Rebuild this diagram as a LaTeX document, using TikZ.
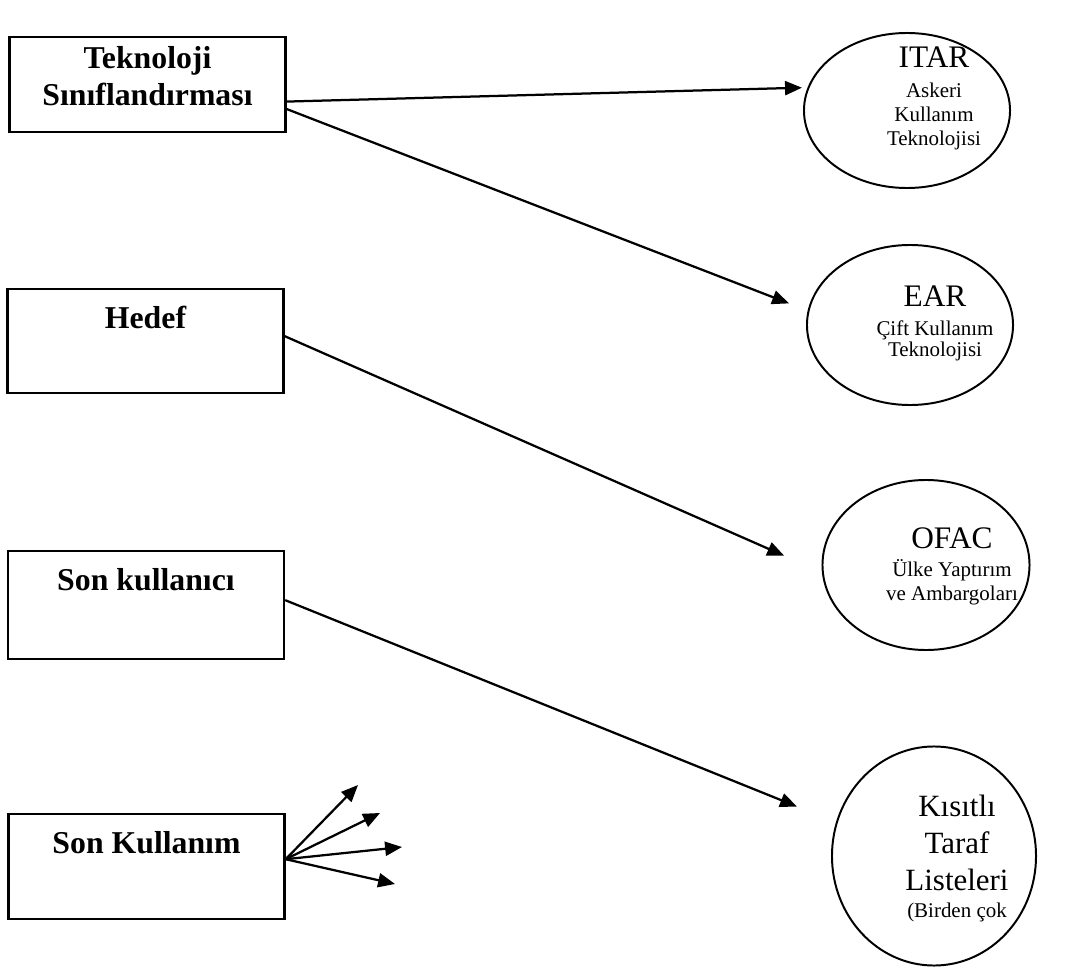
\documentclass[tikz,border=0pt]{standalone}
\usepackage{fontspec}
\setmainfont{Liberation Serif}
\usetikzlibrary{arrows.meta,shapes.geometric}

\begin{document}
\begin{tikzpicture}[x=0.025cm,y=-0.025cm,>={Triangle[length=12pt,width=10pt]},
	box/.style={draw,line width=1.6pt,minimum width=6.9cm,inner sep=0pt},
	btxt/.style={font=\bfseries\fontsize{22.6}{26.3}\selectfont,align=center,anchor=base,inner sep=0pt},
	oval/.style={draw,ellipse,line width=1.4pt,inner sep=0pt},
	ttl/.style={font=\fontsize{22.3}{26}\selectfont,anchor=base,inner sep=0pt},
	sub/.style={font=\fontsize{14.9}{16.4}\selectfont,align=center,anchor=base,inner sep=0pt},
	con/.style={->,line width=1.6pt}]

\useasboundingbox (0,0) rectangle (1086,971);

% left column
\node[box,minimum height=2.375cm] (tek) at (147.5,84.5) {};
\node[box,minimum height=2.6cm]   (hed) at (145.5,341) {};
\node[box,minimum height=2.7cm]   (usr) at (146,605) {};
\node[box,minimum height=2.625cm] (use) at (146.5,866.5) {};

% base = last line
\node[btxt] (tekL) at ([yshift=-1.75cm]tek.north) {Teknoloji\\Sınıflandırması};
\node[btxt] (hedL) at ([yshift=-1.025cm]hed.north) {Hedef};
\node[btxt] (usrL) at ([yshift=-1.025cm]usr.north) {Son kullanıcı};
\node[btxt] (useL) at ([yshift=-1.025cm]use.north) {Son Kullanım};

% right column
\node[oval,minimum width=5.15cm,minimum height=3.875cm] (itar) at (907,110.5) {};
\node[oval,minimum width=5.15cm,minimum height=4cm]     (ear)  at (910,325) {};
\node[oval,minimum width=5.175cm,minimum height=4.25cm] (ofac) at (926,565) {};
\node[oval,minimum width=5.1cm,minimum height=5.475cm]  (kis)  at (934,856) {};

\node[ttl] (itarT) at (934,68) {ITAR};
\node[sub,font=\fontsize{14.9}{17.4}\selectfont] (itarS) at (934,146) {Askeri\\Kullanım\\Teknolojisi};
\node[ttl] (earT) at (935,307) {EAR};
\node[sub,font=\fontsize{14.9}{15.6}\selectfont] (earS) at (935,357) {Çift Kullanım\\Teknolojisi};
\node[ttl] (ofacT) at (952,548) {OFAC};
\node[sub] (ofacS) at (952,600) {Ülke Yaptırım\\ve Ambargoları};
\node[ttl,font=\fontsize{22}{26}\selectfont,align=center] (kisT) at (957,890) {Kısıtlı\\Taraf\\Listeleri};
\node[sub] (kisS) at (957,917) {(Birden çok};

% connectors
\draw[con,shorten >=0.14cm] (tek.-7)  -- (itar.167);
\draw[con,shorten >=0.5cm]  (tek.-10) -- (ear.172);
\draw[con,shorten >=1.03cm] (hed.2.5) -- (ofac.184);
\draw[con,shorten >=1.05cm] (usr.2)   -- (kis.161);

\coordinate (f1) at (358,785);
\coordinate (f2) at (380,813);
\coordinate (f3) at (402,847);
\coordinate (f4) at (395,884);
\foreach \f in {f1,f2,f3,f4}
	\draw[con] (use.3) -- (\f);

\end{tikzpicture}
\end{document}
